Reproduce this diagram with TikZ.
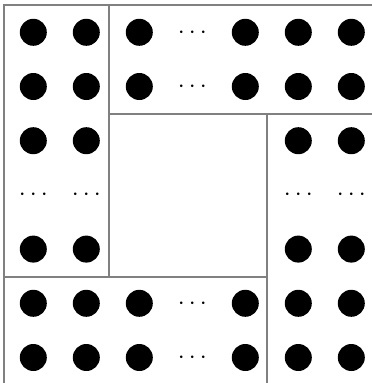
\documentclass[tikz,border=0pt]{standalone}
\begin{document}
\begin{tikzpicture}[x=1pt,y=-1pt,
  bulletnode/.style={circle,fill=black,inner sep=0pt,minimum size=27pt},
  ellnode/.style={inner sep=0pt,anchor=base,font=\fontsize{24}{24}\selectfont},
  gridline/.style={draw=gray,line width=2pt}]
\useasboundingbox (0,0) rectangle (372,383);
\begin{scope}
\clip (0,0) rectangle (372,383);
\draw[gridline] (3.5,390) -- (3.5,4.5) -- (380,4.5);
\draw[gridline] (109,4.5) -- (109,277);
\draw[gridline] (109,114) -- (380,114);
\draw[gridline] (267,114) -- (267,390);
\draw[gridline] (3.5,277) -- (267,277);
\end{scope}
% bullets
\foreach \r in {1,2,6,7}{
  \foreach \c in {1,2,3,5,6,7}{
    \node[bulletnode] (b-\r-\c) at ({33.3+53*(\c-1)},{32.3+54.2*(\r-1)}) {};
  }
  \node[ellnode] (e-\r-4) at ({33.3+53*3},{32.3+54.2*(\r-1)+6}) {$\cdots$};
}
\foreach \r in {3,5}{
  \foreach \c in {1,2,6,7}{
    \node[bulletnode] (b-\r-\c) at ({33.3+53*(\c-1)},{32.3+54.2*(\r-1)}) {};
  }
}
\foreach \c in {1,2,6,7}{
  \node[ellnode] (e-4-\c) at ({33.3+53*(\c-1)},{32.3+54.2*3+6}) {$\cdots$};
}
\end{tikzpicture}
\end{document}
